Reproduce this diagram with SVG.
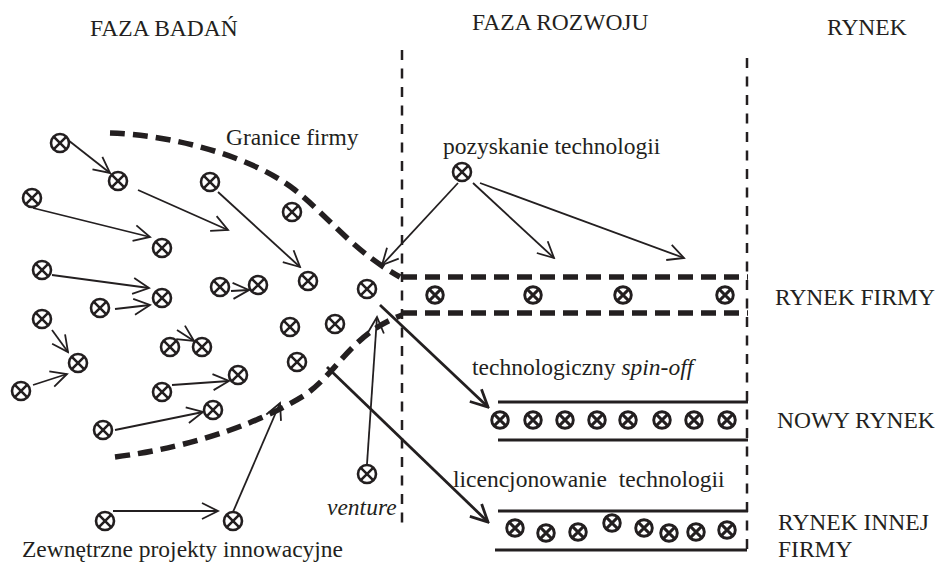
<svg xmlns="http://www.w3.org/2000/svg" width="940" height="564" viewBox="0 0 940 564">
<style>
text{font-family:"Liberation Serif","Times New Roman",serif;font-size:23.5px;fill:#231f20}
.it{font-style:italic}
.a{fill:none;stroke:#231f20;stroke-width:1.8;marker-end:url(#ah)}
.A{fill:none;stroke:#231f20;stroke-width:2.8;marker-end:url(#AH)}
.vd{fill:none;stroke:#231f20;stroke-width:2.5;stroke-dasharray:10 8.5}
.bd{fill:none;stroke:#231f20;stroke-width:5.5;stroke-dasharray:15 8}
.bl{fill:none;stroke:#231f20;stroke-width:3}
</style>
<defs>
<marker id="ah" viewBox="-2 -2 20 20" refX="16" refY="8" markerWidth="20" markerHeight="20" markerUnits="userSpaceOnUse" orient="auto"><path d="M0,0 L16,8 L0,16" fill="none" stroke="#231f20" stroke-width="1.8"/></marker>
<marker id="AH" viewBox="-2 -2 21 21" refX="17" refY="8.5" markerWidth="21" markerHeight="21" markerUnits="userSpaceOnUse" orient="auto"><path d="M0,0 L17,8.5 L0,17" fill="none" stroke="#231f20" stroke-width="2.8"/></marker>
<g id="ox" fill="none" stroke="#231f20" stroke-width="2.6"><circle r="9"/><path d="M-6.4,-6.4L6.4,6.4M-6.4,6.4L6.4,-6.4"/></g>
<g id="oxs" fill="none" stroke="#231f20" stroke-width="2.9"><circle r="8.3"/><path d="M-5.9,-5.9L5.9,5.9M-5.9,5.9L5.9,-5.9"/></g>
</defs>
<rect width="940" height="564" fill="#fff"/>

<g id="labels">
<text x="90" y="36">FAZA BADAŃ</text>
<text x="472" y="30">FAZA ROZWOJU</text>
<text x="827" y="35">RYNEK</text>
<text x="226" y="145">Granice firmy</text>
<text x="443" y="154">pozyskanie technologii</text>
<text x="472" y="375">technologiczny <tspan class="it">spin-off</tspan></text>
<text x="453" y="487" style="white-space:pre">licencjonowanie  technologii</text>
<text x="775" y="305">RYNEK FIRMY</text>
<text x="777" y="428">NOWY RYNEK</text>
<text x="778" y="530">RYNEK INNEJ</text>
<text x="778" y="557">FIRMY</text>
<text class="it" x="327" y="515">venture</text>
<text x="22" y="557">Zewnętrzne projekty innowacyjne</text>
</g>

<g id="frame">
<path class="vd" d="M402,50V526"/>
<path class="vd" d="M747,58V556"/>
<path class="bd" d="M110,133 C170,135 250,155 295,190 C330,218 352,250 400,277"/>
<path class="bd" d="M402,277H748"/>
<path class="bd" d="M115,457 C200,446 265,420 305,395 C340,370 350,335 402,315"/>
<path class="bd" d="M402,313H748"/>
<path class="bl" d="M498,402H748M498,440H748"/>
<path class="bl" d="M498,511H748M495,550H747"/>
</g>

<g id="connectors">
<path class="a" d="M68,140L110,173"/>
<path class="a" d="M33,208L150,237"/>
<path class="a" d="M52,275L149,288"/>
<path class="a" d="M138,190L228,230"/>
<path class="a" d="M218,192L300,267"/>
<path class="a" d="M231,291L249,290"/>
<path class="a" d="M115,309L150,305"/>
<path class="a" d="M52,330L68,352"/>
<path class="a" d="M33,385L67,374"/>
<path class="a" d="M177,330L194,341"/>
<path class="a" d="M172,385L229,381"/>
<path class="a" d="M115,430L203,412"/>
<path class="a" d="M113,511L218,511"/>
<path class="a" d="M233,512L280,403"/>
<path class="a" d="M367,464L377,317"/>
<path class="a" d="M458,183L382,265"/>
<path class="a" d="M473,183L554,258"/>
<path class="a" d="M480,183L684,258"/>
<path class="A" d="M380,305L488,407"/>
<path class="A" d="M327,367L488,522"/>
</g>

<g id="n-l1"><use href="#ox" x="60" y="143"/></g>
<g id="n-l2"><use href="#ox" x="118" y="181"/></g>
<g id="n-l3"><use href="#ox" x="32" y="198"/></g>
<g id="n-l4"><use href="#ox" x="162" y="248"/></g>
<g id="n-l5"><use href="#ox" x="42" y="270"/></g>
<g id="n-l6"><use href="#ox" x="162" y="298"/></g>
<g id="n-l7"><use href="#ox" x="100" y="308"/></g>
<g id="n-l8"><use href="#ox" x="42" y="319"/></g>
<g id="n-l9"><use href="#ox" x="78" y="363"/></g>
<g id="n-l10"><use href="#ox" x="21" y="391"/></g>
<g id="n-l11"><use href="#ox" x="170" y="347"/></g>
<g id="n-l12"><use href="#ox" x="202" y="347"/></g>
<g id="n-l13"><use href="#ox" x="162" y="392"/></g>
<g id="n-l14"><use href="#ox" x="238" y="375"/></g>
<g id="n-l15"><use href="#ox" x="103" y="430"/></g>
<g id="n-l16"><use href="#ox" x="213" y="410"/></g>
<g id="n-l17"><use href="#ox" x="210" y="182"/></g>
<g id="n-l18"><use href="#ox" x="292" y="212"/></g>
<g id="n-l19"><use href="#ox" x="220" y="287"/></g>
<g id="n-l20"><use href="#ox" x="258" y="285"/></g>
<g id="n-l21"><use href="#ox" x="308" y="281"/></g>
<g id="n-l22"><use href="#ox" x="367" y="289"/></g>
<g id="n-l23"><use href="#ox" x="290" y="327"/></g>
<g id="n-l24"><use href="#ox" x="335" y="324"/></g>
<g id="n-l25"><use href="#ox" x="297" y="362"/></g>
<g id="n-venture"><use href="#ox" x="367" y="474"/></g>
<g id="n-ext1"><use href="#ox" x="105" y="521"/></g>
<g id="n-ext2"><use href="#ox" x="233" y="521"/></g>
<g id="n-pozyskanie"><use href="#ox" x="462" y="172"/></g>

<g id="n-rf1"><use href="#oxs" x="435" y="295"/></g>
<g id="n-rf2"><use href="#oxs" x="533" y="295"/></g>
<g id="n-rf3"><use href="#oxs" x="623" y="295"/></g>
<g id="n-rf4"><use href="#oxs" x="725" y="295"/></g>

<g id="n-nr1"><use href="#oxs" x="500" y="420"/></g>
<g id="n-nr2"><use href="#oxs" x="533" y="420"/></g>
<g id="n-nr3"><use href="#oxs" x="565" y="420"/></g>
<g id="n-nr4"><use href="#oxs" x="597" y="420"/></g>
<g id="n-nr5"><use href="#oxs" x="628" y="420"/></g>
<g id="n-nr6"><use href="#oxs" x="662" y="420"/></g>
<g id="n-nr7"><use href="#oxs" x="694" y="420"/></g>
<g id="n-nr8"><use href="#oxs" x="727" y="420"/></g>

<g id="n-ri1"><use href="#oxs" x="515" y="528"/></g>
<g id="n-ri2"><use href="#oxs" x="546" y="533"/></g>
<g id="n-ri3"><use href="#oxs" x="578" y="532"/></g>
<g id="n-ri4"><use href="#oxs" x="612" y="523"/></g>
<g id="n-ri5"><use href="#oxs" x="644" y="528"/></g>
<g id="n-ri6"><use href="#oxs" x="669" y="533"/></g>
<g id="n-ri7"><use href="#oxs" x="696" y="532"/></g>
<g id="n-ri8"><use href="#oxs" x="727" y="530"/></g>
</svg>
